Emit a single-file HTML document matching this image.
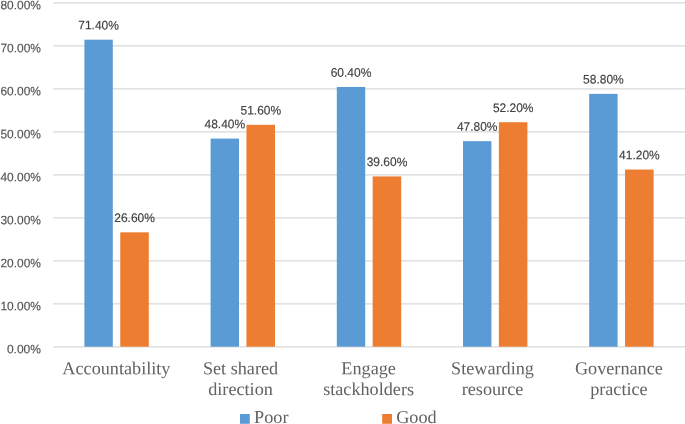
<!DOCTYPE html>
<html lang="en">
<head>
<meta charset="utf-8">
<title>Chart</title>
<style>
html,body{margin:0;padding:0;background:#fff;}
body{width:685px;height:424px;overflow:hidden;}
svg{display:block;}
.ax{font-family:"Liberation Sans",sans-serif;font-size:12.2px;fill:#545454;stroke:#545454;stroke-width:0.15px;}
.dl{font-family:"Liberation Sans",sans-serif;font-size:12.4px;fill:#404040;stroke:#404040;stroke-width:0.15px;}
.ct{font-family:"Liberation Serif",serif;font-size:18.2px;fill:#626262;}
</style>
</head>
<body>
<svg width="685" height="424" viewBox="0 0 685 424">
<rect width="685" height="424" fill="#ffffff"/>
<g stroke="#d9d9d9" stroke-width="1.25">
<line x1="53.1" x2="685" y1="346.75" y2="346.75"/>
<line x1="53.1" x2="685" y1="303.75" y2="303.75"/>
<line x1="53.1" x2="685" y1="260.75" y2="260.75"/>
<line x1="53.1" x2="685" y1="217.75" y2="217.75"/>
<line x1="53.1" x2="685" y1="174.75" y2="174.75"/>
<line x1="53.1" x2="685" y1="131.75" y2="131.75"/>
<line x1="53.1" x2="685" y1="88.75" y2="88.75"/>
<line x1="53.1" x2="685" y1="45.75" y2="45.75"/>
<line x1="53.1" x2="685" y1="2.75" y2="2.75"/>
</g>
<g class="ax" text-anchor="end">
<text transform="translate(40.9 353.25) matrix(1 0.001 0 1 0 0)" textLength="34.0" lengthAdjust="spacingAndGlyphs">0.00%</text>
<text transform="translate(40.9 310.25) matrix(1 0.001 0 1 0 0)" textLength="40.5" lengthAdjust="spacingAndGlyphs">10.00%</text>
<text transform="translate(40.9 267.25) matrix(1 0.001 0 1 0 0)" textLength="40.5" lengthAdjust="spacingAndGlyphs">20.00%</text>
<text transform="translate(40.9 224.25) matrix(1 0.001 0 1 0 0)" textLength="40.5" lengthAdjust="spacingAndGlyphs">30.00%</text>
<text transform="translate(40.9 181.25) matrix(1 0.001 0 1 0 0)" textLength="40.5" lengthAdjust="spacingAndGlyphs">40.00%</text>
<text transform="translate(40.9 138.25) matrix(1 0.001 0 1 0 0)" textLength="40.5" lengthAdjust="spacingAndGlyphs">50.00%</text>
<text transform="translate(40.9 95.25) matrix(1 0.001 0 1 0 0)" textLength="40.5" lengthAdjust="spacingAndGlyphs">60.00%</text>
<text transform="translate(40.9 52.25) matrix(1 0.001 0 1 0 0)" textLength="40.5" lengthAdjust="spacingAndGlyphs">70.00%</text>
<text transform="translate(40.9 9.25) matrix(1 0.001 0 1 0 0)" textLength="40.5" lengthAdjust="spacingAndGlyphs">80.00%</text>
</g>
<g>
<rect x="84.40" y="39.68" width="28.40" height="307.02" fill="#5b9bd5"/>
<rect x="120.25" y="232.32" width="28.55" height="114.38" fill="#ed7d31"/>
<text class="dl" transform="translate(98.60 29.38) matrix(1 0.001 0 1 0 0)" text-anchor="middle" textLength="40.6" lengthAdjust="spacingAndGlyphs">71.40%</text>
<text class="dl" transform="translate(134.60 222.02) matrix(1 0.001 0 1 0 0)" text-anchor="middle" textLength="40.6" lengthAdjust="spacingAndGlyphs">26.60%</text>
<text class="ct" transform="translate(116.40 374.30) matrix(1 0.001 0 1 0 0)" text-anchor="middle">Accountability</text>
</g>
<g>
<rect x="210.60" y="138.58" width="28.40" height="208.12" fill="#5b9bd5"/>
<rect x="246.45" y="124.82" width="28.55" height="221.88" fill="#ed7d31"/>
<text class="dl" transform="translate(224.80 128.28) matrix(1 0.001 0 1 0 0)" text-anchor="middle" textLength="40.6" lengthAdjust="spacingAndGlyphs">48.40%</text>
<text class="dl" transform="translate(260.80 114.52) matrix(1 0.001 0 1 0 0)" text-anchor="middle" textLength="40.6" lengthAdjust="spacingAndGlyphs">51.60%</text>
<text class="ct" transform="translate(240.50 374.30) matrix(1 0.001 0 1 0 0)" text-anchor="middle">Set shared</text>
<text class="ct" transform="translate(240.50 395.10) matrix(1 0.001 0 1 0 0)" text-anchor="middle">direction</text>
</g>
<g>
<rect x="336.80" y="86.98" width="28.40" height="259.72" fill="#5b9bd5"/>
<rect x="372.65" y="176.42" width="28.55" height="170.28" fill="#ed7d31"/>
<text class="dl" transform="translate(351.00 76.68) matrix(1 0.001 0 1 0 0)" text-anchor="middle" textLength="40.6" lengthAdjust="spacingAndGlyphs">60.40%</text>
<text class="dl" transform="translate(387.00 166.12) matrix(1 0.001 0 1 0 0)" text-anchor="middle" textLength="40.6" lengthAdjust="spacingAndGlyphs">39.60%</text>
<text class="ct" transform="translate(368.60 374.30) matrix(1 0.001 0 1 0 0)" text-anchor="middle">Engage</text>
<text class="ct" transform="translate(368.60 395.10) matrix(1 0.001 0 1 0 0)" text-anchor="middle">stackholders</text>
</g>
<g>
<rect x="463.00" y="141.16" width="28.40" height="205.54" fill="#5b9bd5"/>
<rect x="498.85" y="122.24" width="28.55" height="224.46" fill="#ed7d31"/>
<text class="dl" transform="translate(477.20 130.86) matrix(1 0.001 0 1 0 0)" text-anchor="middle" textLength="40.6" lengthAdjust="spacingAndGlyphs">47.80%</text>
<text class="dl" transform="translate(513.20 111.94) matrix(1 0.001 0 1 0 0)" text-anchor="middle" textLength="40.6" lengthAdjust="spacingAndGlyphs">52.20%</text>
<text class="ct" transform="translate(492.50 374.30) matrix(1 0.001 0 1 0 0)" text-anchor="middle">Stewarding</text>
<text class="ct" transform="translate(492.50 395.10) matrix(1 0.001 0 1 0 0)" text-anchor="middle">resource</text>
</g>
<g>
<rect x="589.20" y="93.86" width="28.40" height="252.84" fill="#5b9bd5"/>
<rect x="625.05" y="169.54" width="28.55" height="177.16" fill="#ed7d31"/>
<text class="dl" transform="translate(603.40 83.56) matrix(1 0.001 0 1 0 0)" text-anchor="middle" textLength="40.6" lengthAdjust="spacingAndGlyphs">58.80%</text>
<text class="dl" transform="translate(639.40 159.24) matrix(1 0.001 0 1 0 0)" text-anchor="middle" textLength="40.6" lengthAdjust="spacingAndGlyphs">41.20%</text>
<text class="ct" transform="translate(618.90 374.30) matrix(1 0.001 0 1 0 0)" text-anchor="middle">Governance</text>
<text class="ct" transform="translate(618.90 395.10) matrix(1 0.001 0 1 0 0)" text-anchor="middle">practice</text>
</g>
<g>
<rect x="240" y="414" width="9.8" height="9.8" fill="#5b9bd5"/>
<text class="ct" transform="translate(254.1 422.9) matrix(1 0.001 0 1 0 0)">Poor</text>
<rect x="382.2" y="414" width="9.8" height="9.8" fill="#ed7d31"/>
<text class="ct" transform="translate(396.2 422.9) matrix(1 0.001 0 1 0 0)">Good</text>
</g>
</svg>
</body>
</html>
